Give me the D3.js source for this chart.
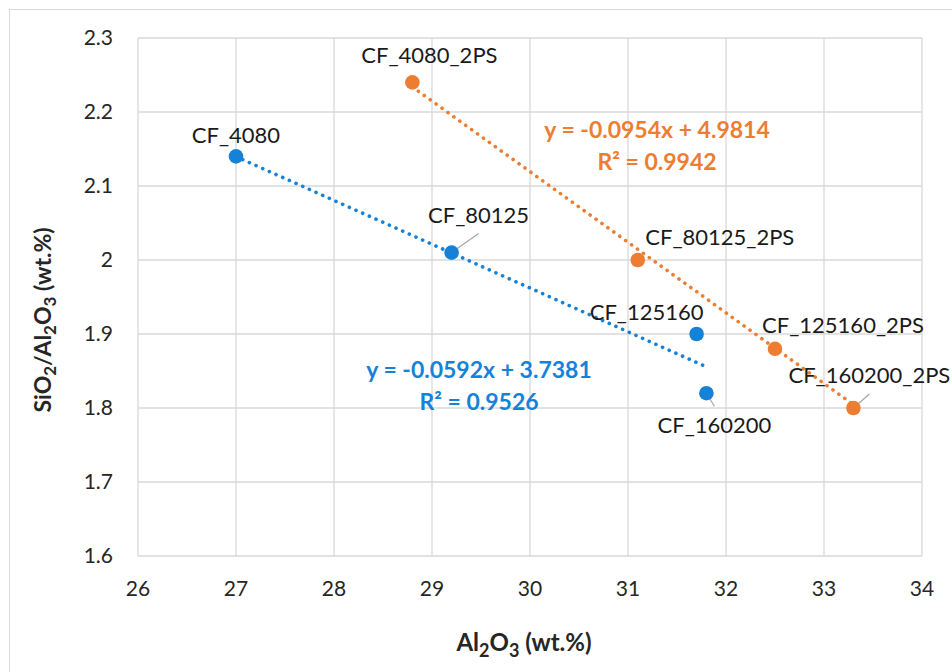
<!DOCTYPE html>
<html>
<head>
<meta charset="utf-8">
<script src="https://cdn.jsdelivr.net/npm/d3@7"></script>
<style>
  body { margin: 0; background: #fff; }
  text { font-family: Lato, "Open Sans", sans-serif; }
</style>
</head>
<body>
<div class="chart"></div>
<script>
// series 1 (blue)
const blueNames = ["CF_4080", "CF_80125", "CF_125160", "CF_160200"];
const blueX = [27, 29.2, 31.7, 31.8];
const blueY = [2.14, 2.01, 1.90, 1.82];
const blueFit = { slope: -0.0592, intercept: 3.7381, r2: 0.9526 };

// series 2 (orange)
const orangeNames = ["CF_4080_2PS", "CF_80125_2PS", "CF_125160_2PS", "CF_160200_2PS"];
const orangeX = [28.8, 31.1, 32.5, 33.3];
const orangeY = [2.24, 2.00, 1.88, 1.80];
const orangeFit = { slope: -0.0954, intercept: 4.9814, r2: 0.9942 };

const xTicks = [26, 27, 28, 29, 30, 31, 32, 33, 34];
const yTicks = [1.6, 1.7, 1.8, 1.9, 2.0, 2.1, 2.2, 2.3];

// label placement relative to the point (px): dx, dy, leader line yes/no
const blueLabelPos = [[0, -21, false], [27, -38, true], [-50, -22, false], [8, 32, true]];
const orangeLabelPos = [[17, -27, false], [82, -23, false], [68, -24, false], [16, -33, true]];

const blue = "#1582d8", orange = "#ed7d31";
const width = 952, height = 672;
const margin = { top: 38, right: 30, bottom: 116, left: 138 };

const svg = d3.select(".chart").append("svg")
  .attr("width", width)
  .attr("height", height);

svg.append("rect")
  .attr("x", 9.5).attr("y", 9.5)
  .attr("width", 980).attr("height", 700)
  .attr("fill", "#fff").attr("stroke", "#d9d9d9");

const x = d3.scaleLinear().domain([26, 34]).range([margin.left, width - margin.right]);
const y = d3.scaleLinear().domain([1.6, 2.3]).range([height - margin.bottom, margin.top]);

const grid = svg.append("g");
grid.selectAll(".gx").data(xTicks).enter().append("line")
  .attr("x1", d => x(d)).attr("x2", d => x(d))
  .attr("y1", y(1.6)).attr("y2", y(2.3))
  .attr("stroke", "#d9d9d9").attr("stroke-width", 1.3);
grid.selectAll(".gy").data(yTicks).enter().append("line")
  .attr("x1", x(26)).attr("x2", x(34))
  .attr("y1", d => y(d)).attr("y2", d => y(d))
  .attr("stroke", "#d9d9d9").attr("stroke-width", 1.3);

svg.append("g").selectAll("text").data(xTicks).enter().append("text")
  .attr("x", d => x(d)).attr("y", y(1.6) + 40)
  .attr("text-anchor", "middle")
  .attr("font-size", 21).attr("fill", "#262626")
  .text(d => d);

svg.append("g").selectAll("text").data(yTicks).enter().append("text")
  .attr("x", x(26) - 25).attr("y", d => y(d) + 7)
  .attr("text-anchor", "end")
  .attr("font-size", 21).attr("fill", "#262626")
  .text(d => d3.format("")(+d.toFixed(1)));

// axis titles
const xt = svg.append("text")
  .attr("x", 524).attr("y", 651)
  .attr("text-anchor", "middle")
  .attr("font-size", 24).attr("font-weight", "bold").attr("fill", "#262626");
xt.append("tspan").text("Al");
xt.append("tspan").attr("font-size", 18).attr("dy", 6).text("2");
xt.append("tspan").attr("dy", -6).text("O");
xt.append("tspan").attr("font-size", 18).attr("dy", 6).text("3");
xt.append("tspan").attr("dy", -6).text(" (wt.%)");

const yt = svg.append("text")
  .attr("transform", "translate(51,320) rotate(-90)")
  .attr("text-anchor", "middle")
  .attr("font-size", 23).attr("font-weight", "bold").attr("fill", "#262626");
yt.append("tspan").text("SiO");
yt.append("tspan").attr("font-size", 17).attr("dy", 5).text("2");
yt.append("tspan").attr("dy", -5).text("/Al");
yt.append("tspan").attr("font-size", 17).attr("dy", 5).text("2");
yt.append("tspan").attr("dy", -5).text("O");
yt.append("tspan").attr("font-size", 17).attr("dy", 5).text("3");
yt.append("tspan").attr("dy", -5).text(" (wt.%)");

function drawSeries(names, xs, ys, fit, color, labelPos, eqPos) {
  const pts = names.map((n, i) => ({ name: n, x: xs[i], y: ys[i], pos: labelPos[i] }));
  const g = svg.append("g");
  const xmin = d3.min(xs), xmax = d3.max(xs);
  const trend = [xmin, xmax].map(v => ({ x: v, y: fit.slope * v + fit.intercept }));
  g.append("path")
    .datum(trend)
    .attr("d", d3.line().x(d => x(d.x)).y(d => y(d.y)))
    .attr("fill", "none").attr("stroke", color)
    .attr("stroke-width", 3.6)
    .attr("stroke-linecap", "round")
    .attr("stroke-dasharray", "0.1 7.2");

  // leader lines stop short of the label
  g.selectAll(".leader").data(pts.filter(p => p.pos[2])).enter().append("line")
    .attr("x1", d => x(d.x)).attr("y1", d => y(d.y))
    .attr("x2", d => x(d.x) + d.pos[0])
    .attr("y2", d => y(d.y) + d.pos[1] - Math.sign(d.pos[1]) * 19)
    .attr("stroke", "#a6a6a6").attr("stroke-width", 1.2);

  g.selectAll("circle").data(pts).enter().append("circle")
    .attr("cx", d => x(d.x)).attr("cy", d => y(d.y))
    .attr("r", 7.3).attr("fill", color);

  g.selectAll(".lbl").data(pts).enter().append("text")
    .attr("x", d => x(d.x) + d.pos[0])
    .attr("y", d => y(d.y) + d.pos[1] + 8)
    .attr("text-anchor", "middle")
    .attr("font-size", 22).attr("fill", "#1a1a1a")
    .text(d => d.name);

  const eq = g.append("text")
    .attr("text-anchor", "middle")
    .attr("font-size", 23).attr("font-weight", "bold").attr("fill", color);
  eq.append("tspan").attr("x", eqPos[0]).attr("y", eqPos[1])
    .text("y = " + fit.slope + "x + " + fit.intercept);
  eq.append("tspan").attr("x", eqPos[0]).attr("y", eqPos[1] + 32)
    .text("R² = " + fit.r2);
}

drawSeries(blueNames, blueX, blueY, blueFit, blue, blueLabelPos, [479, 378]);
drawSeries(orangeNames, orangeX, orangeY, orangeFit, orange, orangeLabelPos, [657, 138]);
</script>
</body>
</html>
